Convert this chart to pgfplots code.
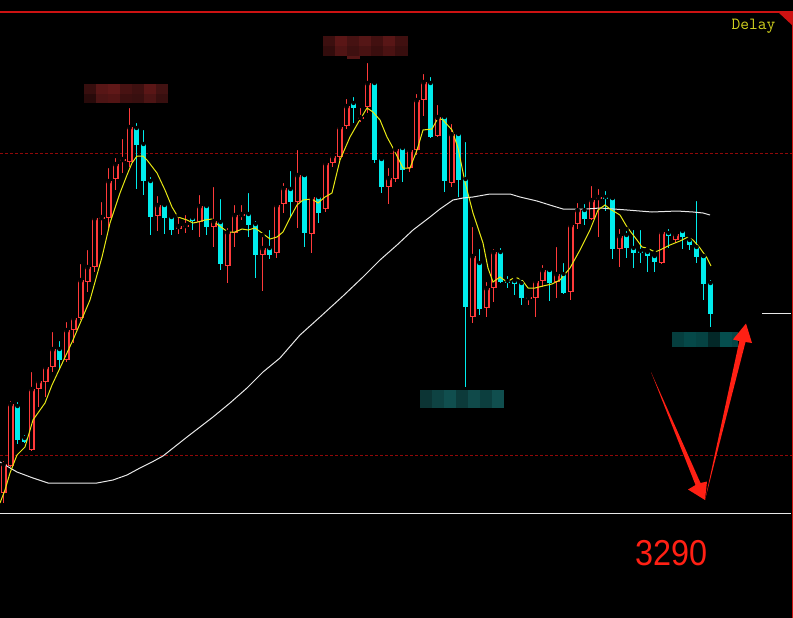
\documentclass[border=0pt]{standalone}
\usepackage{pgfplots}
\pgfplotsset{compat=1.18}
\usepackage{pgfplotstable}
\usepackage{fontspec}
\newfontfamily\numfont{Liberation Sans}

\definecolor{candred}{RGB}{255,58,58}
\definecolor{candcyan}{RGB}{0,236,236}
\definecolor{mayellow}{RGB}{232,232,20}
\definecolor{mawhite}{RGB}{232,232,232}
\definecolor{gridred}{RGB}{145,8,8}
\definecolor{framered}{RGB}{205,18,18}
\definecolor{delayyel}{RGB}{210,210,30}
\definecolor{arrowred}{RGB}{255,32,20}

% candles in screen pixels: x centre, high, body top, body bottom, low
\pgfplotstableread{
x hi top bot lo
3.5 459 464 493 503
10.5 399 404 466 467
31.5 370 389 450 451
38.5 378 381 389 407
45.5 366 367 382 397
52.5 330 349 367 372
66.5 320 330 360 362
73.5 315 318 330 343
80.5 262 280 318 320
87.5 248 267 282 292
94.5 215 218 267 272
101.5 200 217 219 235
108.5 166 181 218 228
115.5 156 164 179 190
122.5 137 159 161 173
129.5 106 127 162 167
157.5 194 205 216 231
178.5 215 226 229 234
185.5 213 225 227 233
199.5 193 206 222 237
213.5 185 221 227 247
227.5 226 232 266 283
234.5 203 215 233 247
241.5 203 214 216 220
262.5 235 248 255 291
276.5 203 205 253 258
283.5 181 188 204 213
297.5 148 175 202 228
311.5 195 197 234 253
325.5 160 163 209 212
332.5 154 156 163 167
339.5 124 127 157 160
346.5 97 106 126 129
360.5 106 117 119 122
367.5 61 83 107 113
388.5 166 178 187 204
395.5 148 149 179 182
409.5 147 150 168 172
416.5 92 100 150 155
423.5 72 82 100 116
437.5 103 117 136 137
451.5 122 134 183 187
472.5 225 256 317 323
486.5 280 288 308 317
493.5 247 252 288 302
528.5 293 297 299 305
535.5 278 281 298 317
542.5 263 270 281 287
556.5 245 274 282 298
570.5 221 225 292 300
577.5 201 210 224 229
591.5 184 200 219 220
598.5 187 197 199 237
619.5 227 236 249 267
661.5 230 232 263 264
675.5 231 234 240 243
}\upcandles

\pgfplotstableread{
x hi top bot lo
17.5 400 406 440 444
24.5 433 438 442 443
59.5 339 349 360 370
136.5 121 128 145 189
143.5 128 144 181 195
150.5 175 181 217 235
164.5 202 205 218 234
171.5 216 217 230 235
192.5 216 218 221 230
206.5 204 206 227 235
220.5 197 222 264 270
248.5 191 214 225 237
255.5 219 224 255 278
269.5 228 248 255 259
290.5 169 189 202 217
304.5 175 175 233 247
318.5 195 197 213 223
353.5 95 103 108 123
374.5 82 83 160 163
381.5 157 159 187 193
402.5 147 148 170 182
430.5 75 83 137 138
444.5 115 117 181 192
458.5 133 134 180 197
465.5 140 179 307 387
479.5 247 263 309 315
500.5 246 252 282 283
507.5 274 281 283 288
514.5 277 281 284 295
521.5 278 283 298 305
549.5 269 270 283 301
563.5 261 274 293 294
584.5 202 210 219 225
605.5 189 197 199 211
612.5 198 198 249 259
626.5 229 235 248 258
633.5 228 248 253 268
640.5 228 251 253 263
647.5 249 252 256 272
654.5 253 256 262 272
668.5 227 233 236 248
682.5 229 231 237 249
689.5 236 240 245 250
696.5 199 247 257 263
703.5 256 256 284 300
710.5 278 283 314 327
}\downcandles

\newcommand{\rcell}[6]{\fill[fill={rgb,255:red,#5;green,#6;blue,#6}] (axis cs:#1,#3) rectangle (axis cs:#2,#4);}
\newcommand{\tcell}[5]{\fill[fill={rgb,255:red,#5;green,#5;blue,#5},fill opacity=1] (axis cs:#1,#3) rectangle (axis cs:#2,#4);}

\begin{document}
\begin{tikzpicture}
\fill[black] (0,0) rectangle (793pt,618pt);
\begin{axis}[
    at={(0,0)}, anchor=south west,
    scale only axis, width=793pt, height=618pt,
    xmin=0, xmax=793, ymin=0, ymax=618, y dir=reverse,
    axis line style={draw=none}, ticks=none,
]
% dashed level lines and frame
\addplot[gridred, line width=0.9pt, dash pattern=on 3pt off 2pt] coordinates {(0,153) (793,153)};
\addplot[gridred, line width=0.9pt, dash pattern=on 3pt off 2pt] coordinates {(0,455) (793,455)};
\addplot[framered, line width=1.2pt] coordinates {(0,12) (793,12)};
\addplot[framered, line width=1.5pt] coordinates {(792.3,12) (792.3,618)};
\addplot[mawhite, line width=1pt] coordinates {(0,513) (791,513)};
\addplot[mawhite, line width=1pt] coordinates {(762,313) (791,313)};
\fill[framered] (axis cs:778,12) -- (axis cs:793,12) -- (axis cs:793,26) -- cycle;

% wicks
\addplot[only marks, mark=none, forget plot, error bars/.cd, y dir=plus, y explicit,
    error mark=none, error bar style={line width=1pt, draw=candred}]
    table[x=x, y=hi, y error plus expr=\thisrow{lo}-\thisrow{hi}] {\upcandles};
\addplot[only marks, mark=none, forget plot, error bars/.cd, y dir=plus, y explicit,
    error mark=none, error bar style={line width=1pt, draw=candcyan}]
    table[x=x, y=hi, y error plus expr=\thisrow{lo}-\thisrow{hi}] {\downcandles};
% bodies: hollow red, filled cyan
\addplot[only marks, mark=none, forget plot, error bars/.cd, y dir=plus, y explicit,
    error mark=none, error bar style={line width=6pt, draw=candred}]
    table[x=x, y=top, y error plus expr={max(\thisrow{bot}-\thisrow{top},1.5)}] {\upcandles};
\addplot[only marks, mark=none, forget plot, error bars/.cd, y dir=plus, y explicit,
    error mark=none, error bar style={line width=3.8pt, draw=black}]
    table[x=x, y expr=\thisrow{top}+1.1, y error plus expr={max(\thisrow{bot}-\thisrow{top}-2.2,0)}] {\upcandles};
\addplot[only marks, mark=none, forget plot, error bars/.cd, y dir=plus, y explicit,
    error mark=none, error bar style={line width=5.4pt, draw=candcyan}]
    table[x=x, y=top, y error plus expr={max(\thisrow{bot}-\thisrow{top},1.5)}] {\downcandles};

% long moving average
\addplot[mawhite, line width=1pt] coordinates {
(0,462) (17,472) (33,478) (48,483) (97,483) (113,480) (127,475) (140,468) (152,462)
(163,456) (187,437) (213,417) (230,403) (247,388) (263,372) (280,358) (300,335)
(320,317) (343,296) (363,277) (380,260) (397,245) (413,230) (430,217) (440,209)
(453,200) (463,198) (473,197) (490,194) (510,194) (520,197) (537,201) (553,206)
(563,209) (587,209) (600,208) (627,210) (652,212) (677,211) (693,212) (703,213) (710,215)
};
% short moving average
\addplot[mayellow, line width=1pt] coordinates {
(0,503) (5,490) (10,473) (17,455) (25,447) (33,420) (45,403) (52,385) (60,368) (73,340)
(90,300) (102,257) (110,223) (120,193) (127,175) (132,163) (137,156) (143,156) (147,160)
(157,173) (165,190) (172,207) (178,217) (187,220) (193,223) (198,222) (205,220) (212,219)
(218,225) (228,232) (235,232) (242,229) (248,230) (255,228) (262,233) (270,239) (277,237)
(283,232) (290,218) (297,205) (303,200) (312,199) (318,203) (325,197) (332,193) (340,160)
(350,137) (358,123) (367,108) (373,112) (380,120) (387,137) (393,148) (403,168) (410,168)
(417,150) (423,130) (432,129) (438,118) (443,120) (452,130) (458,148) (465,182) (473,213)
(483,243) (488,268) (493,282) (500,277) (507,282) (515,277) (522,280) (528,288) (535,288)
(543,286) (552,284) (560,280) (570,268) (580,250) (590,230) (598,210) (605,205) (610,209)
(620,215) (627,227) (637,240) (642,247) (647,248) (655,252) (660,250) (670,245) (680,241)
(688,237) (693,240) (700,248) (707,258) (711,266)
};

% blurred price labels
\rcell{84}{96}{84}{94}{55}{14}\rcell{96}{108}{84}{94}{88}{22}\rcell{108}{120}{84}{94}{96}{24}
\rcell{120}{132}{84}{94}{72}{18}\rcell{132}{144}{84}{94}{62}{16}\rcell{144}{156}{84}{94}{90}{22}
\rcell{156}{168}{84}{94}{66}{18}
\rcell{84}{96}{94}{103}{40}{10}\rcell{96}{108}{94}{103}{76}{20}\rcell{108}{120}{94}{103}{82}{20}
\rcell{120}{132}{94}{103}{60}{15}\rcell{132}{144}{94}{103}{56}{15}\rcell{144}{156}{94}{103}{76}{20}
\rcell{156}{168}{94}{103}{56}{15}
\rcell{323}{335}{36}{46}{60}{15}\rcell{335}{347}{36}{46}{90}{22}\rcell{347}{359}{36}{46}{70}{18}
\rcell{359}{371}{36}{46}{85}{22}\rcell{371}{383}{36}{46}{66}{16}\rcell{383}{395}{36}{46}{88}{22}
\rcell{395}{408}{36}{46}{64}{16}
\rcell{323}{335}{46}{56}{50}{12}\rcell{335}{347}{46}{56}{80}{20}\rcell{347}{359}{46}{56}{62}{16}
\rcell{359}{371}{46}{56}{72}{18}\rcell{371}{383}{46}{56}{58}{14}\rcell{383}{395}{46}{56}{74}{18}
\rcell{395}{408}{46}{56}{56}{14}
\rcell{347}{360}{56}{59}{85}{22}
\fill[fill={rgb,255:red,12;green,52;blue,52}] (axis cs:420,390) rectangle (axis cs:432,408);
\fill[fill={rgb,255:red,14;green,66;blue,66}] (axis cs:432,390) rectangle (axis cs:444,408);
\fill[fill={rgb,255:red,16;green,78;blue,78}] (axis cs:444,390) rectangle (axis cs:456,408);
\fill[fill={rgb,255:red,12;green,58;blue,58}] (axis cs:456,390) rectangle (axis cs:468,408);
\fill[fill={rgb,255:red,16;green,74;blue,74}] (axis cs:468,390) rectangle (axis cs:480,408);
\fill[fill={rgb,255:red,12;green,62;blue,62}] (axis cs:480,390) rectangle (axis cs:492,408);
\fill[fill={rgb,255:red,16;green,78;blue,78}] (axis cs:492,390) rectangle (axis cs:504,408);
\fill[fill={rgb,255:red,5;green,62;blue,62}] (axis cs:672,332) rectangle (axis cs:684,347);
\fill[fill={rgb,255:red,5;green,72;blue,72}] (axis cs:684,332) rectangle (axis cs:696,347);
\fill[fill={rgb,255:red,5;green,66;blue,66}] (axis cs:696,332) rectangle (axis cs:708,347);
\fill[fill={rgb,255:red,3;green,40;blue,40}] (axis cs:708,332) rectangle (axis cs:720,347);
\fill[fill={rgb,255:red,5;green,78;blue,78}] (axis cs:720,332) rectangle (axis cs:732,347);
\fill[fill={rgb,255:red,5;green,70;blue,70}] (axis cs:732,332) rectangle (axis cs:738,347);

% hand-drawn arrows
\fill[arrowred] (axis cs:651,372) -- (axis cs:700.5,483) -- (axis cs:707,481.5) -- (axis cs:705,500)
    -- (axis cs:688,489.5) -- (axis cs:695.5,485) -- cycle;
\fill[arrowred] (axis cs:705,500) -- (axis cs:739.3,341) -- (axis cs:733,339.5) -- (axis cs:746,323.5)
    -- (axis cs:752,343) -- (axis cs:745.5,342) -- cycle;

\node[anchor=base west, text=delayyel, font=\ttfamily\fontsize{17}{17}\selectfont, inner sep=0pt]
    at (axis cs:731.5,29.3) {Delay};
\node[anchor=base west, text=arrowred, font=\numfont\fontsize{36}{36}\selectfont, inner sep=0pt, xscale=0.9]
    at (axis cs:635,565) {3290};
\end{axis}
\end{tikzpicture}
\end{document}
